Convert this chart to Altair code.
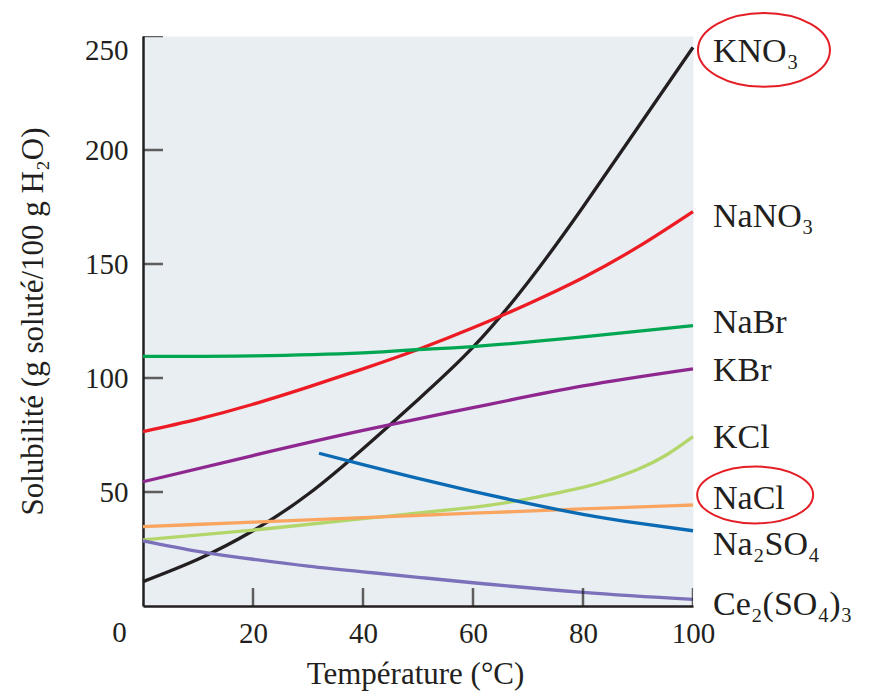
import altair as alt
import pandas as pd

# ---- data ----
names = ["KNO₃", "NaNO₃", "NaBr", "KBr", "KCl", "NaCl", "Na₂SO₄", "Ce₂(SO₄)₃"]
colors = ["#231F20", "#ED1C24", "#00A651", "#8E278F", "#B3D66B", "#F9A560", "#0A6AB4", "#7B70BA"]

temp_kno3 = [0, 10, 20, 30, 40, 50, 60, 70, 80, 90, 100]
sol_kno3 = [10.7, 20.5, 33, 49, 69, 90.5, 113.5, 142, 175, 210, 245]

temp_nano3 = [0, 10, 20, 30, 40, 50, 60, 70, 80, 90, 100]
sol_nano3 = [76.5, 82, 88.5, 96, 104, 112.5, 122, 132.5, 144, 157.5, 173]

temp_nabr = [0, 20, 40, 50, 60, 80, 100]
sol_nabr = [109.5, 109.7, 111, 112.5, 113.8, 118, 123]

temp_kbr = [0, 20, 40, 60, 80, 100]
sol_kbr = [54.5, 66, 77, 87, 96.5, 104]

temp_kcl = [0, 20, 40, 60, 70, 80, 85, 90, 95, 100]
sol_kcl = [29, 33.3, 38.3, 43.3, 47, 52, 55.5, 60, 66, 74.3]

temp_nacl = [0, 20, 40, 60, 80, 100]
sol_nacl = [34.8, 36.8, 38.8, 40.7, 42.6, 44.3]

temp_na2so4 = [32, 40, 50, 60, 70, 80, 90, 100]
sol_na2so4 = [67, 62, 56, 50.3, 45, 40.2, 36.3, 33]

temp_ce = [0, 10, 20, 30, 40, 50, 60, 80, 100]
sol_ce = [28.6, 24, 20.5, 17.5, 15, 12.6, 10.2, 6, 2.9]

label_y = [243.2, 170.4, 124.1, 102.9, 73.5, 46.9, 26.8, 0.4]

x_ticks = [20, 40, 60, 80, 100]
y_ticks = [50, 100, 150, 200, 250]

circled = ["KNO₃", "NaCl"]
circle_t = [112.9, 111.3]
circle_v = [243.9, 48.7]

# ---- build tables ----
series = [
    (names[0], temp_kno3, sol_kno3),
    (names[1], temp_nano3, sol_nano3),
    (names[2], temp_nabr, sol_nabr),
    (names[3], temp_kbr, sol_kbr),
    (names[4], temp_kcl, sol_kcl),
    (names[5], temp_nacl, sol_nacl),
    (names[6], temp_na2so4, sol_na2so4),
    (names[7], temp_ce, sol_ce),
]
rows = []
for n, xs, ys in series:
    for x, y in zip(xs, ys):
        rows.append({"s": n, "t": x, "v": y})
df = pd.DataFrame(rows)

df_labels = pd.DataFrame({"s": names, "t": [100] * len(names), "v": label_y})
df_xt = pd.DataFrame({"t": x_ticks, "v": [0] * len(x_ticks)})
df_yt = pd.DataFrame({"t": [0] * len(y_ticks), "v": y_ticks})
df_zero = pd.DataFrame({"t": [0], "v": [0], "s": ["0"]})
df_circ = pd.DataFrame({"s": circled, "t": circle_t, "v": circle_v})

SERIF = "Liberation Serif"
INK = "#231F20"

x_scale = alt.Scale(domain=[0, 100], nice=False, zero=False)
y_scale = alt.Scale(domain=[0, 250], nice=False, zero=False)

x_axis = alt.Axis(
    values=x_ticks, ticks=False, tickSize=0, grid=False,
    labelPadding=36, labelBaseline="alphabetic", labelFlush=False,
    labelFont=SERIF, labelFontSize=29, labelColor=INK,
    domainColor=INK, domainWidth=2.5,
    title="Température (°C)", titleFont=SERIF, titleFontSize=31,
    titleFontWeight="normal", titleColor=INK,
    titleX=272, titleY=77, titleBaseline="alphabetic", titleAlign="center",
)
y_axis = alt.Axis(
    values=y_ticks, ticks=False, tickSize=0, grid=False,
    labelPadding=15, labelFlush=True,
    labelFont=SERIF, labelFontSize=29, labelColor=INK,
    domainColor=INK, domainWidth=2.5,
    title="Solubilité (g soluté/100 g H₂O)", titleFont=SERIF, titleFontSize=31,
    titleFontWeight="normal", titleColor=INK,
    titleX=-101, titleY=285, titleBaseline="alphabetic", titleAlign="center",
)


def X():
    return alt.X("t:Q", scale=x_scale, axis=x_axis)


def Y():
    return alt.Y("v:Q", scale=y_scale, axis=y_axis)


lines = alt.Chart(df).mark_line(strokeWidth=3.3, interpolate="natural").encode(
    x=X(),
    y=Y(),
    color=alt.Color("s:N", scale=alt.Scale(domain=names, range=colors), legend=None),
    order="t:Q",
)

xt = alt.Chart(df_xt).mark_tick(orient="vertical", size=36, thickness=2.5, clip=True, color=INK).encode(
    x=X(), y=Y()
)
yt = alt.Chart(df_yt).mark_tick(orient="horizontal", size=40, thickness=2.5, clip=True, color=INK).encode(
    x=X(), y=Y()
)

labels = alt.Chart(df_labels).mark_text(
    align="left", baseline="middle", dx=20, font=SERIF, fontSize=34, color=INK
).encode(x=X(), y=Y(), text="s:N")

zero = alt.Chart(df_zero).mark_text(
    align="center", baseline="alphabetic", dx=-23.5, dy=36, font=SERIF, fontSize=29, color=INK
).encode(x=X(), y=Y(), text="s:N")

ell1 = alt.Chart(df_circ[df_circ.s == circled[0]]).mark_point(
    shape="M -1 0 A 1 0.56 0 1 1 1 0 A 1 0.56 0 1 1 -1 0 Z",
    size=17424, filled=False, stroke="#E41E26", strokeWidth=2, opacity=1,
).encode(x=X(), y=Y())

ell2 = alt.Chart(df_circ[df_circ.s == circled[1]]).mark_point(
    shape="M -1 0 A 1 0.49 0 1 1 1 0 A 1 0.49 0 1 1 -1 0 Z",
    size=13456, filled=False, stroke="#E41E26", strokeWidth=2, opacity=1,
).encode(x=X(), y=Y())

chart = alt.layer(lines, xt, yt, labels, zero, ell1, ell2).properties(
    width=550, height=570,
    autosize=alt.AutoSizeParams(type="none"),
    padding={"left": 135, "top": 28, "right": 170, "bottom": 85},
    background="white",
).configure_view(fill="#E9EEF2", stroke="transparent")

chart.save("out.html", embed_options={"renderer": "svg", "actions": False})
